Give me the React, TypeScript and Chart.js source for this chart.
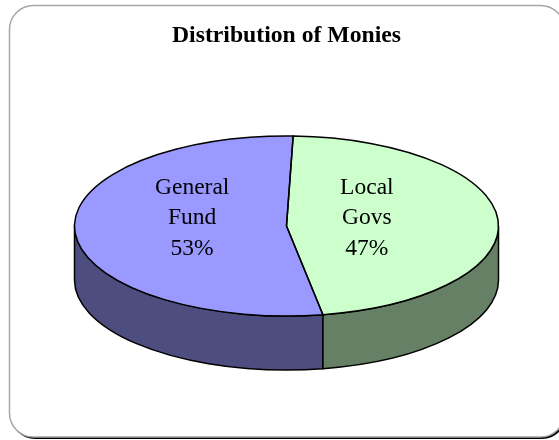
import React, { useEffect, useRef } from "react";
import { Chart, registerables } from "chart.js";

Chart.register(...registerables);

const categories = ["General Fund", "Local Govs"];
const values = [53.25, 46.75];
const topColors = ["#9999ff", "#ccffcc"];
const sideColors = ["#4d4d80", "#668066"];
const titleText = "Distribution of Monies";

const ELLIPSE_RATIO = 90 / 212;
const DEPTH = 54;
const FONT = "'Liberation Serif', 'Times New Roman', serif";

const pie3d = {
  id: "pie3d",
  beforeDraw(chart: any) {
    const { ctx } = chart;
    const x = 9.5, y = 5.5, w = 555, h = 431.5, r = 24;
    ctx.save();
    ctx.fillStyle = "#ffffff";
    ctx.fillRect(0, 0, chart.width, chart.height);
    ctx.beginPath();
    ctx.roundRect(x + 1.5, y + 2, w, h, r);
    ctx.fillStyle = "#000000";
    ctx.fill();
    ctx.beginPath();
    ctx.roundRect(x, y, w, h, r);
    ctx.fillStyle = "#ffffff";
    ctx.fill();
    ctx.strokeStyle = "#a6a6a6";
    ctx.lineWidth = 1.5;
    ctx.stroke();
    ctx.restore();
  },
  beforeDatasetsDraw(chart: any) {
    const { ctx } = chart;
    const arcs = chart.getDatasetMeta(0).data;
    const cx = arcs[0].x, cy = arcs[0].y, rx = arcs[0].outerRadius, ry = rx * ELLIPSE_RATIO;
    ctx.save();
    ctx.strokeStyle = "#000";
    ctx.lineWidth = 1.5;
    ctx.lineJoin = "round";
    arcs.forEach((a: any, i: number) => {
      // Front-facing part of the arc, tried at both wraps of the circle.
      [0, -2 * Math.PI].forEach((shift) => {
        const s = Math.max(a.startAngle + shift, 0);
        const e = Math.min(a.endAngle + shift, Math.PI);
        if (e <= s) return;
        ctx.beginPath();
        ctx.ellipse(cx, cy, rx, ry, 0, s, e);
        ctx.ellipse(cx, cy + DEPTH, rx, ry, 0, e, s, true);
        ctx.closePath();
        ctx.fillStyle = sideColors[i];
        ctx.fill();
        ctx.stroke();
      });
    });
    ctx.restore();
    ctx.save();
    ctx.translate(0, cy);
    ctx.scale(1, ELLIPSE_RATIO);
    ctx.translate(0, -cy);
  },
  afterDatasetsDraw(chart: any) {
    const { ctx } = chart;
    ctx.restore();
    const arcs = chart.getDatasetMeta(0).data;
    const cx = arcs[0].x, cy = arcs[0].y, rx = arcs[0].outerRadius, ry = rx * ELLIPSE_RATIO;
    ctx.save();
    ctx.strokeStyle = "#000";
    ctx.lineWidth = 1.5;
    ctx.lineJoin = "round";
    arcs.forEach((a: any) => {
      ctx.beginPath();
      ctx.moveTo(cx, cy);
      ctx.ellipse(cx, cy, rx, ry, 0, a.startAngle, a.endAngle);
      ctx.closePath();
      ctx.stroke();
    });
    ctx.fillStyle = "#000";
    ctx.font = `23.5px ${FONT}`;
    ctx.textAlign = "center";
    ctx.textBaseline = "middle";
    arcs.forEach((a: any, i: number) => {
      const mid = (a.startAngle + a.endAngle) / 2;
      const lx = cx + Math.cos(mid) * rx * 0.413 - 7;
      const ly = cy - 8;
      const total = values.reduce((p, v) => p + v, 0);
      const lines = [...categories[i].split(" "), `${Math.round((values[i] / total) * 100)}%`];
      lines.forEach((t, n) => ctx.fillText(t, lx, ly + (n - 1) * 30.5));
    });
    ctx.restore();
  },
};

export default function App() {
  const ref = useRef<HTMLCanvasElement>(null);
  useEffect(() => {
    document.body.style.margin = "0";
    const chart = new Chart(ref.current!, {
      type: "pie",
      data: {
        labels: categories,
        datasets: [
          { data: values, backgroundColor: topColors, borderWidth: 0, radius: 212 } as any,
        ],
      },
      options: {
        responsive: false,
        animation: false,
        rotation: 1.8 + (values[1] / 100) * 360,
        layout: { padding: { left: 14, right: 0, top: 0, bottom: 46.4 } },
        plugins: {
          legend: { display: false },
          tooltip: { enabled: false },
          title: {
            display: true,
            text: titleText,
            color: "#000",
            font: { family: FONT, size: 23.7, weight: "bold" },
            padding: { top: 22, bottom: 8 },
          },
        },
      },
      plugins: [pie3d],
    } as any);
    return () => chart.destroy();
  }, []);
  return <canvas ref={ref} width={559} height={440} style={{ display: "block" }} />;
}
